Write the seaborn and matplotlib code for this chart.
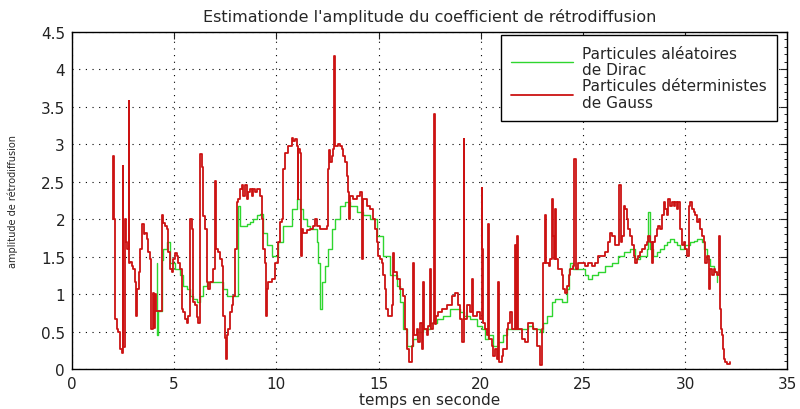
import matplotlib
matplotlib.use("Agg")
import matplotlib.pyplot as plt
from matplotlib.ticker import MultipleLocator
import numpy as np
import pandas as pd
import seaborn as sns

# ---- data -------------------------------------------------------------
title = "Estimationde l'amplitude du coefficient de rétrodiffusion"
xlabel = "temps en seconde"
ylabel = "amplitude de rétrodiffusion"
label_dirac = "Particules aléatoires\nde Dirac"
label_gauss = "Particules déterministes\nde Gauss"

x_ticks = [0, 5, 10, 15, 20, 25, 30, 35]
y_ticks = [0, 0.5, 1, 1.5, 2, 2.5, 3, 3.5, 4, 4.5]

# Gauss (deterministic particles) estimate
gauss_t = [
    2.00, 2.02, 2.06, 2.10, 2.20, 2.27, 2.35, 2.43, 2.48, 2.52, 2.59, 2.64, 2.68, 2.77, 2.80,
    2.84, 2.92, 3.00, 3.08, 3.13, 3.16, 3.20, 3.27, 3.33, 3.41, 3.50, 3.57, 3.65, 3.74, 3.82,
    3.88, 3.95, 4.00, 4.06, 4.12, 4.31, 4.39, 4.47, 4.55, 4.63, 4.72, 4.80, 4.88, 4.96, 5.04,
    5.12, 5.20, 5.29, 5.37, 5.45, 5.53, 5.61, 5.69, 5.78, 5.86, 5.94, 6.02, 6.10, 6.18, 6.27,
    6.35, 6.43, 6.51, 6.59, 6.67, 6.75, 6.84, 6.92, 7.00, 7.04, 7.16, 7.24, 7.32, 7.41, 7.49,
    7.54, 7.60, 7.65, 7.73, 7.81, 7.89, 7.98, 8.06, 8.14, 8.22, 8.30, 8.38, 8.47, 8.55, 8.63,
    8.71, 8.79, 8.87, 8.95, 9.04, 9.20, 9.28, 9.36, 9.45, 9.50, 9.53, 9.61, 9.77, 9.94, 10.10,
    10.18, 10.26, 10.34, 10.42, 10.59, 10.75, 10.83, 10.92, 11.00, 11.04, 11.08, 11.16, 11.19,
    11.24, 11.32, 11.49, 11.65, 11.81, 11.89, 11.97, 12.14, 12.30, 12.46, 12.55, 12.60, 12.63,
    12.71, 12.79, 12.84, 12.87, 12.95, 13.04, 13.12, 13.20, 13.28, 13.36, 13.44, 13.53, 13.57,
    13.61, 13.77, 13.93, 14.10, 14.18, 14.26, 14.42, 14.59, 14.75, 14.83, 14.91, 14.99, 15.08,
    15.16, 15.24, 15.32, 15.37, 15.48, 15.57, 15.65, 15.70, 15.76, 15.89, 16.05, 16.22, 16.30,
    16.38, 16.51, 16.62, 16.71, 16.75, 16.87, 16.95, 17.03, 17.11, 17.20, 17.24, 17.36, 17.44,
    17.52, 17.56, 17.68, 17.73, 17.78, 17.81, 17.93, 18.09, 18.34, 18.58, 18.75, 18.91, 18.99,
    19.07, 19.16, 19.20, 19.24, 19.32, 19.48, 19.59, 19.64, 19.81, 19.97, 20.05, 20.08, 20.10,
    20.21, 20.30, 20.38, 20.42, 20.54, 20.62, 20.70, 20.79, 20.87, 20.91, 21.03, 21.11, 21.28,
    21.36, 21.44, 21.52, 21.68, 21.71, 21.80, 21.85, 22.01, 22.17, 22.33, 22.58, 22.74, 22.91,
    22.99, 23.07, 23.15, 23.20, 23.32, 23.40, 23.48, 23.53, 23.59, 23.64, 23.69, 23.80, 23.97,
    24.05, 24.13, 24.21, 24.30, 24.38, 24.54, 24.59, 24.64, 24.78, 24.95, 25.11, 25.27, 25.44,
    25.60, 25.76, 25.92, 26.09, 26.25, 26.33, 26.41, 26.58, 26.74, 26.79, 26.85, 26.90, 26.99,
    27.07, 27.15, 27.23, 27.31, 27.39, 27.48, 27.56, 27.64, 27.72, 27.80, 27.88, 27.97, 28.05,
    28.13, 28.21, 28.29, 28.37, 28.45, 28.54, 28.62, 28.70, 28.78, 28.86, 28.95, 29.03, 29.11,
    29.19, 29.27, 29.35, 29.44, 29.52, 29.60, 29.68, 29.76, 29.84, 29.93, 30.01, 30.09, 30.17,
    30.25, 30.33, 30.42, 30.50, 30.58, 30.66, 30.74, 30.82, 30.91, 30.99, 31.07, 31.15, 31.23,
    31.31, 31.40, 31.48, 31.56, 31.64, 31.69, 31.72, 31.77, 31.82, 31.85, 31.92, 31.96, 32.05,
    32.21,
]
gauss_amp = [
    2.00, 2.85, 2.00, 0.67, 0.53, 0.50, 0.27, 0.22, 2.71, 0.30, 2.00, 1.70, 1.60, 3.58, 1.42,
    1.43, 1.38, 1.34, 1.16, 0.71, 1.05, 1.07, 1.30, 1.60, 1.94, 1.80, 1.82, 1.73, 1.56, 1.47,
    0.53, 1.02, 0.55, 1.00, 0.77, 0.77, 2.05, 1.95, 1.91, 1.87, 1.56, 1.34, 1.29, 1.47, 1.55,
    1.51, 1.42, 1.34, 0.80, 0.76, 0.67, 0.62, 0.71, 2.00, 1.87, 0.89, 0.85, 0.69, 0.62, 2.87,
    2.70, 2.04, 1.87, 1.16, 1.07, 1.16, 1.16, 1.34, 2.51, 1.60, 1.56, 1.47, 1.38, 0.71, 0.42,
    0.13, 0.45, 0.53, 0.76, 0.85, 0.98, 1.60, 2.23, 2.27, 2.40, 2.45, 2.31, 2.45, 2.27, 2.36,
    2.40, 2.31, 2.40, 2.36, 2.40, 2.31, 2.00, 1.60, 1.42, 0.71, 1.07, 1.16, 1.20, 1.42, 1.69,
    1.96, 2.00, 2.67, 2.89, 2.98, 3.09, 3.05, 3.07, 2.98, 2.27, 2.94, 2.89, 1.51,
    1.87, 1.82, 1.85, 1.87, 1.91, 2.00, 1.91, 1.87, 1.87, 1.91, 2.67, 2.93, 2.76,
    2.85, 2.94, 4.18, 2.98, 2.98, 3.00, 2.98, 2.94, 2.85, 2.76, 2.58, 2.36, 2.00,
    2.31, 2.27, 2.31, 2.36, 1.47, 2.27, 2.18, 2.14, 2.00, 1.87, 1.69, 1.51, 1.47,
    1.42, 1.25, 1.07, 0.80, 0.71, 0.71, 0.85, 1.55, 1.29, 1.20, 1.07, 0.98, 0.53,
    0.27, 0.09, 0.31, 1.42, 0.45, 0.53, 0.36, 0.62, 0.27, 1.16, 0.53, 0.45, 0.58,
    1.34, 0.53, 0.62, 3.40, 0.60, 0.71, 0.76, 0.80, 0.85, 0.98, 1.02, 0.85, 0.67,
    0.36, 3.07, 0.67, 0.67, 0.85, 0.76, 1.20, 0.71, 0.76, 0.67, 2.42, 1.60, 0.62,
    0.53, 0.45, 1.93, 0.40, 0.31, 0.18, 0.27, 0.13, 1.16, 0.09, 0.18, 0.27, 0.53,
    0.62, 0.76, 0.53, 1.65, 0.53, 1.78, 0.53, 0.40, 0.36, 0.62, 0.53, 0.31, 0.05,
    0.53, 1.42, 2.05, 1.42, 1.38, 1.47, 2.27, 1.78, 1.47, 2.14, 1.47, 1.34, 1.25,
    1.07, 1.02, 1.11, 1.25, 1.34, 1.38, 2.80, 1.34, 1.42, 1.42, 1.38, 1.42, 1.38,
    1.42, 1.51, 1.51, 1.56, 1.69, 1.82, 1.78, 1.65, 1.65, 2.45, 1.69, 1.78, 2.18,
    2.14, 2.00, 1.87, 1.78, 1.65, 1.51, 1.42, 1.47, 1.51, 1.56, 1.60, 1.60, 1.65,
    1.69, 1.78, 1.69, 1.42, 1.69, 1.78, 1.87, 1.91, 1.87, 2.05, 2.23, 2.14, 2.05,
    2.27, 2.18, 2.23, 2.18, 2.23, 2.14, 2.23, 1.87, 1.65, 1.69, 1.60, 1.51, 2.18,
    2.23, 2.14, 2.09, 2.05, 1.96, 2.00, 1.87, 1.78, 1.69, 1.42, 1.51, 1.07, 1.34,
    1.25, 1.34, 1.29, 1.25, 1.78, 1.07, 0.80, 0.53, 0.45, 0.27, 0.13, 0.09, 0.07,
    0.09,
]

# Dirac (random particles) estimate
dirac_t = [
    4.14, 4.18, 4.23, 4.31, 4.39, 4.47, 4.63, 4.80, 4.96, 5.04, 5.29, 5.45, 5.61, 5.78, 5.94,
    6.10, 6.27, 6.43, 6.59, 6.92, 7.24, 7.41, 7.57, 7.89, 8.06, 8.14, 8.22, 8.38, 8.55, 8.71,
    8.87, 9.04, 9.20, 9.36, 9.53, 9.77, 9.94, 10.10, 10.34, 10.75, 11.00, 11.16, 11.32, 11.49,
    11.65, 11.81, 11.97, 12.06, 12.14, 12.22, 12.38, 12.55, 12.71, 12.87, 13.12, 13.36, 13.61,
    13.93, 14.26, 14.59, 14.91, 15.24, 15.57, 15.89, 16.05, 16.22, 16.38, 16.62, 16.71, 16.87,
    17.20, 17.52, 17.85, 18.17, 18.50, 18.75, 18.99, 19.16, 19.48, 19.81, 20.05, 20.21, 20.38,
    20.62, 20.87, 21.11, 21.28, 21.60, 21.97, 22.33, 22.58, 22.91, 23.07, 23.23, 23.48, 23.64,
    23.97, 24.21, 24.30, 24.38, 24.54, 24.78, 25.11, 25.27, 25.44, 25.76, 26.09, 26.41, 26.74,
    26.99, 27.31, 27.56, 27.80, 28.13, 28.21, 28.29, 28.45, 28.62, 28.78, 28.95, 29.11, 29.27,
    29.44, 29.60, 29.76, 29.93, 30.09, 30.25, 30.42, 30.58, 30.74, 30.82, 30.91, 31.07, 31.23,
    31.40, 31.56,
]
dirac_amp = [
    1.42, 0.45, 0.77, 0.77, 1.46, 1.60, 1.70, 1.42, 1.42, 1.34, 1.25, 1.11, 1.07, 0.98, 0.93,
    0.89, 0.98, 1.11, 1.16, 1.16, 1.16, 1.07, 0.98, 0.98, 0.98, 2.18, 1.91, 1.91, 1.93, 1.96,
    2.00, 2.05, 2.07, 1.82, 1.65, 1.51, 1.51, 1.69, 1.91, 2.14, 2.27, 2.14, 2.00, 1.91,
    1.87, 1.87, 1.69, 1.42, 0.80, 1.16, 1.38, 1.60, 1.87, 2.00, 2.18, 2.23, 2.18,
    2.09, 2.05, 2.00, 1.78, 1.51, 1.25, 1.11, 0.89, 0.53, 0.31, 0.31, 0.40, 0.49,
    0.53, 0.62, 0.67, 0.71, 0.80, 0.80, 0.76, 0.71, 0.67, 0.58, 0.53, 0.40, 0.45,
    0.31, 0.36, 0.45, 0.53, 0.53, 0.53, 0.58, 0.53, 0.49, 0.62, 0.71, 0.89, 0.93,
    0.89, 1.07, 1.34, 1.42, 1.34, 1.34, 1.25, 1.20, 1.25, 1.29, 1.38, 1.42, 1.51,
    1.56, 1.60, 1.47, 1.51, 1.60, 2.10, 1.60, 1.51, 1.56, 1.60, 1.65, 1.69, 1.73,
    1.69, 1.65, 1.60, 1.65, 1.65, 1.69, 1.71, 1.73, 1.73, 1.69, 1.60, 1.47, 1.38,
    1.29, 1.16,
]

dirac = pd.DataFrame({"t": dirac_t, "amp": dirac_amp})
gauss = pd.DataFrame({"t": gauss_t, "amp": gauss_amp})

# ---- figure -----------------------------------------------------------
sns.set_theme(style="white")
plt.rcParams["font.family"] = ["DejaVu Sans"]

fig = plt.figure(figsize=(8, 4.1), dpi=100)
ax = fig.add_axes([0.09, 0.0976, 0.894, 0.822])

sns.lineplot(data=dirac, x="t", y="amp", ax=ax, color="#2fd62f", linewidth=1.0,
             drawstyle="steps-post", estimator=None, sort=False, label=label_dirac)
sns.lineplot(data=gauss, x="t", y="amp", ax=ax, color="#cc1212", linewidth=1.3,
             drawstyle="steps-post", estimator=None, sort=False, label=label_gauss)

ax.set_xlim(0, 35)
ax.set_ylim(0, 4.5)
ax.set_xticks(x_ticks)
ax.set_yticks(y_ticks)
ax.set_xticklabels([f"{v:g}" for v in x_ticks])
ax.set_yticklabels([f"{v:g}" for v in y_ticks])
ax.yaxis.set_minor_locator(MultipleLocator(0.1))

ax.grid(True, which="major", linestyle=(0, (1, 5)), color="black", linewidth=0.8)
ax.tick_params(which="major", direction="in", length=5, width=0.8, colors="#222222",
               top=True, right=True, labelsize=11, pad=5)
ax.tick_params(which="minor", direction="in", length=2.5, width=0.6, colors="black",
               left=False, right=True, top=False, bottom=False)
for s in ax.spines.values():
    s.set_color("black")
    s.set_linewidth(1.0)
    s.set_visible(True)

ax.set_title(title, fontsize=11.5, pad=8)
ax.set_xlabel(xlabel, fontsize=11)
ax.xaxis.set_label_coords(0.5, -0.068)
ax.set_ylabel(ylabel, fontsize=7)
ax.yaxis.set_label_coords(-0.075, 0.5)

leg = ax.legend(loc="upper right", bbox_to_anchor=(0.986, 0.991), borderaxespad=0,
                fontsize=11, frameon=True, fancybox=False, handlelength=4.0,
                handletextpad=0.6, labelspacing=0.05, borderpad=0.7)
for txt in leg.get_texts():
    txt.set_linespacing(1.15)
leg.get_frame().set_edgecolor("black")
leg.get_frame().set_linewidth(1.0)
leg.get_frame().set_facecolor("white")
leg.get_frame().set_alpha(1)

fig.savefig("out.png", dpi=100)
